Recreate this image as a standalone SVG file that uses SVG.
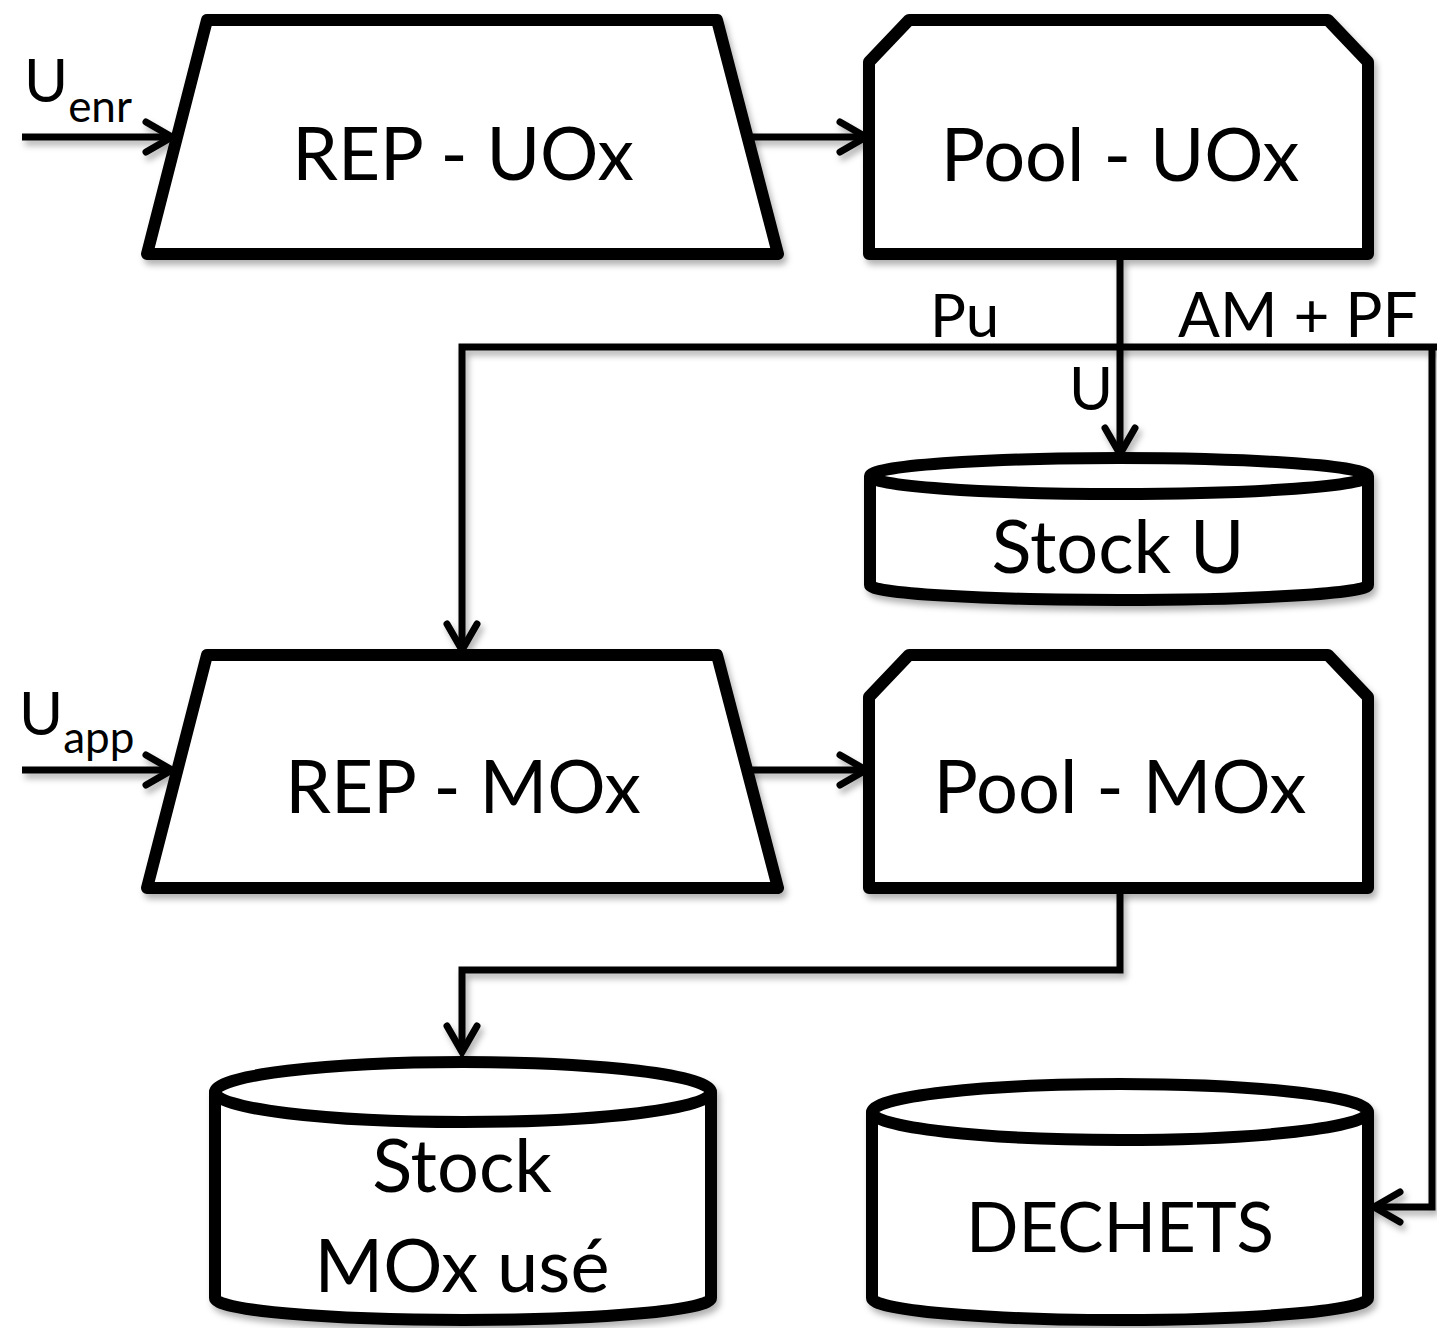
<svg xmlns="http://www.w3.org/2000/svg" width="1437" height="1328" viewBox="0 0 1437 1328">
<defs>
<filter id="sh" filterUnits="userSpaceOnUse" x="0" y="0" width="1437" height="1328">
<feDropShadow dx="3" dy="5" stdDeviation="3" flood-color="#000" flood-opacity="0.3"/>
</filter>
<marker id="arr" markerUnits="userSpaceOnUse" markerWidth="40" markerHeight="40" refX="30" refY="20" orient="auto">
<path d="M4,5 L30,20 L4,35" fill="none" stroke="#000" stroke-width="7" stroke-linecap="round" stroke-linejoin="miter"/>
</marker>
</defs>
<style>
.shape{fill:#fff;stroke:#000;stroke-width:12;stroke-linejoin:round;filter:url(#sh)}
.ln{fill:none;stroke:#000;stroke-width:7;filter:url(#sh)}
.big{font-family:Lato,"Liberation Sans",sans-serif;font-size:73px;fill:#000;text-anchor:middle}
.lab{font-family:Lato,"Liberation Sans",sans-serif;font-size:60px;fill:#000}
.sub{font-family:Lato,"Liberation Sans",sans-serif;font-size:44px;fill:#000}
</style>
<rect width="1437" height="1328" fill="#fff"/>
<g id="connectors">
<line class="ln" x1="22" y1="137" x2="172" y2="137" marker-end="url(#arr)"/>
<line class="ln" x1="748" y1="137" x2="866" y2="137" marker-end="url(#arr)"/>
<line class="ln" x1="1120" y1="258" x2="1120" y2="454" marker-end="url(#arr)"/>
<polyline class="ln" points="1437,347 462,347 462,650" marker-end="url(#arr)"/>
<polyline class="ln" points="1432,347 1432,1207 1374,1207" marker-end="url(#arr)"/>
<line class="ln" x1="22" y1="770" x2="172" y2="770" marker-end="url(#arr)"/>
<line class="ln" x1="748" y1="770" x2="866" y2="770" marker-end="url(#arr)"/>
<polyline class="ln" points="1120,890 1120,970 462,970 462,1052" marker-end="url(#arr)"/>
<text class="lab" x="930" y="337">Pu</text>
<text class="lab" x="1178" y="337" style="font-size:62px">AM + PF</text>
<text class="lab" x="1069" y="410">U</text>
<text class="lab" x="24" y="102">U<tspan class="sub" dy="20">enr</tspan></text>
<text class="lab" x="19" y="735">U<tspan class="sub" dy="18">app</tspan></text>
</g>
<g id="rep-uox">
<polygon class="shape" points="207,20 717,20 778,254 147,254"/>
<text class="big" x="463" y="180">REP - UOx</text>
</g>
<g id="pool-uox">
<path class="shape" d="M909,20 L1328,20 L1368,62 L1368,254 L869,254 L869,62 Z"/>
<text class="big" x="1120" y="181" style="font-size:74px">Pool - UOx</text>
</g>
<g id="stock-u">
<path class="shape" d="M870,476 A249,18 0 0 1 1368,476 L1368,585 A249,15 0 0 1 870,585 Z"/>
<path d="M870,476 A249,18 0 0 0 1368,476" fill="none" stroke="#000" stroke-width="12"/>
<text class="big" x="1118" y="573" style="font-size:74px">Stock U</text>
</g>
<g id="rep-mox">
<polygon class="shape" points="207,655 717,655 778,888 147,888"/>
<text class="big" x="463" y="813">REP - MOx</text>
</g>
<g id="pool-mox">
<path class="shape" d="M909,655 L1328,655 L1368,697 L1368,888 L869,888 L869,697 Z"/>
<text class="big" x="1120" y="813" style="font-size:74px">Pool - MOx</text>
</g>
<g id="stock-mox">
<path class="shape" d="M215,1092 A248,30 0 0 1 711,1092 L711,1298 A248,22 0 0 1 215,1298 Z"/>
<path d="M215,1092 A248,30 0 0 0 711,1092" fill="none" stroke="#000" stroke-width="12"/>
<text class="big" x="462" y="1192" style="font-size:74px">Stock</text>
<text class="big" x="462" y="1292" style="font-size:74px">MOx usé</text>
</g>
<g id="dechets">
<path class="shape" d="M872,1112 A248,28 0 0 1 1368,1112 L1368,1298 A248,22 0 0 1 872,1298 Z"/>
<path d="M872,1112 A248,28 0 0 0 1368,1112" fill="none" stroke="#000" stroke-width="12"/>
<text class="big" x="1120" y="1252" style="font-size:69px">DECHETS</text>
</g>
</svg>
